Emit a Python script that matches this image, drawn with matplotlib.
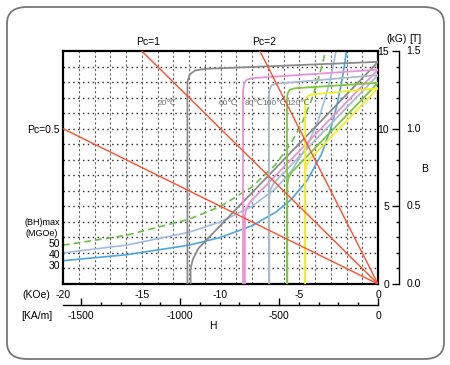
import matplotlib
matplotlib.use('Agg')
import matplotlib.pyplot as plt
from matplotlib.patches import FancyBboxPatch
from matplotlib.ticker import MultipleLocator

plt.rcParams['font.family'] = ['Liberation Sans', 'DejaVu Sans']
plt.rcParams['axes.unicode_minus'] = False

# demag curves per temperature (H in kOe, B in kG)
temps = ['20\u2103', '60\u2103', '80\u2103', '100\u2103', '120\u2103']
colors = ['#8a8a8a', '#e892d8', '#aabbcc', '#7cc83c', '#eeee22']
label_h = [-13.4, -9.5, -7.9, -6.6, -5.05]

intr_h = [[0, -11.0, -11.6, -11.95, -12.1, -12.1],
          [0, -8.0, -8.35, -8.5, -8.57, -8.57],
          [0, -6.4, -6.75, -6.9, -6.92, -6.92],
          [0, -5.3, -5.6, -5.75, -5.78, -5.78],
          [0, -4.2, -4.45, -4.6, -4.63, -4.63]]
intr_b = [[14.3, 13.85, 13.75, 13.5, 13.0, 0],
          [13.8, 13.25, 13.15, 12.9, 12.4, 0],
          [13.45, 12.9, 12.8, 12.5, 12.0, 0],
          [12.95, 12.6, 12.5, 12.25, 11.8, 0],
          [12.6, 12.2, 12.1, 11.85, 11.4, 0]]
norm_h = [[0, -11.4, -11.75, -11.9, -11.9],
          [0, -8.1, -8.35, -8.45, -8.45],
          [0, -6.6, -6.82, -6.9, -6.9],
          [0, -5.5, -5.7, -5.76, -5.76],
          [0, -4.35, -4.55, -4.62, -4.62]]
norm_b = [[14.3, 2.3, 1.6, 1.0, 0],
          [13.8, 5.3, 4.9, 4.4, 0],
          [13.45, 6.52, 6.1, 5.6, 0],
          [12.95, 7.17, 6.8, 6.3, 0],
          [12.6, 8.03, 7.65, 7.1, 0]]

# (BH)max iso-energy curves
bh_labels = ['50', '40', '30']
bh_colors = ['#66c244', '#9dbde6', '#4aa8e0']
bh_styles = [(0, (4, 2.5)), '-', '-']
bh_h = [[-20, -16, -12, -10, -8, -6.5, -5.5, -4.8, -4.2, -3.8, -3.5, -3.33],
        [-20, -16, -12, -10, -8, -6.5, -5.5, -4.5, -3.8, -3.3, -3.0, -2.8, -2.67],
        [-20, -16, -12, -10, -8, -6.5, -5.5, -4.5, -3.6, -3.0, -2.6, -2.3, -2.1, -2.0]]
bh_b = [[2.5, 3.13, 4.17, 5.0, 6.25, 7.69, 9.09, 10.42, 11.9, 13.16, 14.29, 15.0],
        [2.0, 2.5, 3.33, 4.0, 5.0, 6.15, 7.27, 8.89, 10.53, 12.12, 13.33, 14.29, 15.0],
        [1.5, 1.88, 2.5, 3.0, 3.75, 4.62, 5.45, 6.67, 8.33, 10.0, 11.54, 13.04, 14.29, 15.0]]

# permeance coefficient load lines
pc_values = [0.5, 1, 2]
pc_labels = ['Pc=0.5', 'Pc=1', 'Pc=2']

koe_ticks = [-20, -15, -10, -5, 0]
kam_ticks = [-1500, -1000, -500, 0]
kg_ticks = [0, 5, 10, 15]
tesla_labels = ['0.0', '0.5', '1.0', '1.5']

W, Hpx = 450, 365
fig = plt.figure(figsize=(4.5, 3.65), dpi=100)

# rounded outer frame
frame = FancyBboxPatch((7 / W, 6 / Hpx), 437 / W, 352 / Hpx,
                       boxstyle='round,pad=0,rounding_size=0.045',
                       transform=fig.transFigure, fc='none', ec='#777777', lw=1.3,
                       zorder=-5)
fig.patches.append(frame)

ax = fig.add_axes([63 / W, 81 / Hpx, 315 / W, 233 / Hpx])
ax.set_xlim(-20, 0)
ax.set_ylim(0, 15)

for h in range(-19, 0):
    ax.axvline(h, color='#666666', lw=0.8, ls=(0, (2, 2)), zorder=1)
for b in range(1, 15):
    ax.axhline(b, color='#333333', lw=1.0, ls=(0, (1.1, 2.4)), zorder=1)

for i in range(len(temps)):
    ax.plot(intr_h[i], intr_b[i], color=colors[i], lw=1.3, zorder=3)
    ax.plot(norm_h[i], norm_b[i], color=colors[i], lw=1.3, zorder=3)
    ax.text(label_h[i], 11.6, temps[i], color='#707070', fontsize=6,
            ha='center', va='center', zorder=4)

for i in range(len(bh_labels)):
    ax.plot(bh_h[i], bh_b[i], color=bh_colors[i], lw=1.2, ls=bh_styles[i], zorder=2)

for pc in pc_values:
    ax.plot([0, -20], [0, 20 * pc], color='#ff4f2a', lw=1.0, zorder=5)

ax.text(-20.2, 9.9, pc_labels[0], fontsize=7.5, ha='right', va='center', clip_on=False)
ax.text(-14.6, 15.55, pc_labels[1], fontsize=7.5, ha='center', va='center', clip_on=False)
ax.text(-7.2, 15.55, pc_labels[2], fontsize=7.5, ha='center', va='center', clip_on=False)

ax.set_xticks(koe_ticks)
ax.set_xticklabels([str(t) for t in koe_ticks])
ax.set_yticks([])
ax.tick_params(axis='x', length=0, pad=4, labelsize=7.5)
for s in ax.spines.values():
    s.set_linewidth(1.6)

# (BH)max annotation on left
fig.text(42 / W, 1 - 222 / Hpx, '(BH)max', fontsize=6.5, ha='center', va='center')
fig.text(42 / W, 1 - 234 / Hpx, '(MGOe)', fontsize=6.5, ha='center', va='center')
for lab, y in zip(bh_labels, [244, 255, 266]):
    fig.text(60 / W, 1 - y / Hpx, lab, fontsize=7.5, ha='right', va='center')

fig.text(36 / W, 1 - 295 / Hpx, '(KOe)', fontsize=7.5, ha='center', va='center')
fig.text(37 / W, 1 - 316 / Hpx, '[KA/m]', fontsize=7.5, ha='center', va='center')
fig.text(213 / W, 1 - 326 / Hpx, 'H', fontsize=7.5, ha='center', va='center')

# second horizontal scale in kA/m
axb = fig.add_axes([63 / W, 60 / Hpx, 315 / W, 0.001])
axb.set_xlim(-20 * 79.5775, 0)
axb.set_yticks([])
for k in ['top', 'left', 'right']:
    axb.spines[k].set_visible(False)
axb.spines['bottom'].set_linewidth(1.0)
axb.set_xticks(kam_ticks)
axb.set_xticklabels([str(t) for t in kam_ticks])
axb.xaxis.set_minor_locator(MultipleLocator(100))
axb.tick_params(axis='x', which='major', direction='in', length=5, width=1, pad=4, labelsize=7.5)
axb.tick_params(axis='x', which='minor', direction='in', length=2.5, width=1)
axb.plot([-20 * 79.5775] * 2, [0, 1], color='k', lw=1, clip_on=False,
         transform=axb.get_xaxis_transform())
axb.patch.set_visible(False)

# right B scale
axr = fig.add_axes([399 / W, 81 / Hpx, 0.001, 233 / Hpx])
axr.set_ylim(0, 15)
axr.set_xticks([])
for k in ['top', 'bottom', 'right']:
    axr.spines[k].set_visible(False)
axr.spines['left'].set_linewidth(1.0)
axr.set_yticks(kg_ticks)
axr.set_yticklabels([str(t) for t in kg_ticks])
axr.yaxis.set_minor_locator(MultipleLocator(1))
axr.tick_params(axis='y', which='major', length=5, width=1, pad=2, labelsize=7.5)
axr.tick_params(axis='y', which='minor', length=2.5, width=1)
axr.patch.set_visible(False)
for v, lab in zip(kg_ticks, tesla_labels):
    axr.annotate(lab, xy=(1, v), xycoords=('axes fraction', 'data'), xytext=(5, 0),
                 textcoords='offset points', va='center', ha='left', fontsize=7.5)

fig.text(397 / W, 1 - 39 / Hpx, '(kG)', fontsize=7.5, ha='center', va='center')
fig.text(415 / W, 1 - 39 / Hpx, '[T]', fontsize=7.5, ha='center', va='center')
fig.text(425 / W, 1 - 169 / Hpx, 'B', fontsize=7.5, ha='center', va='center')

fig.savefig('out.png', dpi=100)
